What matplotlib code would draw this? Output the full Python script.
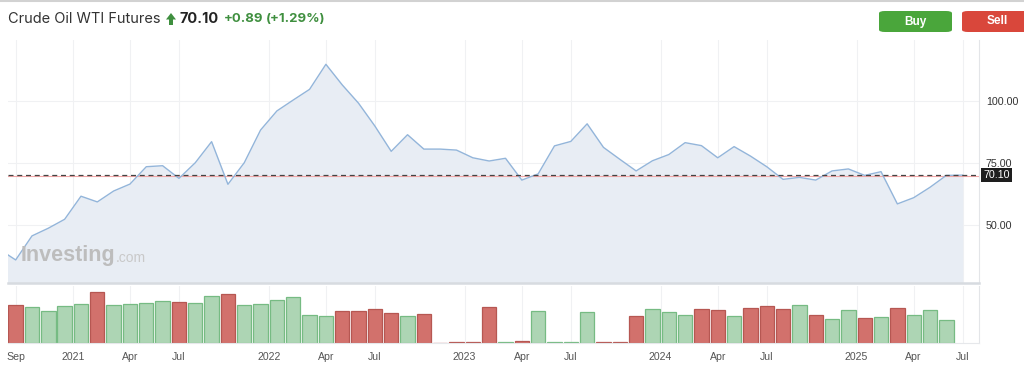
import matplotlib.pyplot as plt
import matplotlib.transforms as mtransforms
from matplotlib.patches import FancyBboxPatch, Polygon
import numpy as np
import pandas as pd

# Data (monthly, Aug 2020 .. Jul 2025)
months = [str(p) for p in pd.period_range("2020-08", "2025-07", freq="M")]
price = [40.2, 35.9, 45.6, 48.7, 52.3, 61.6, 59.3, 63.7, 66.5, 73.5, 73.9,
         68.8, 75.1, 83.6, 66.4, 75.1, 88.3, 96.0, 100.4, 104.7, 114.8,
         106.5, 99.1, 89.9, 79.7, 86.4, 80.6, 80.6, 80.2, 77.1, 75.8,
         76.9, 68.1, 70.6, 81.9, 83.7, 90.8, 81.3, 76.5, 71.8, 75.9,
         78.4, 83.2, 82.0, 77.1, 81.6, 77.8, 73.5, 68.4, 69.2, 68.1,
         71.8, 72.6, 70.0, 71.5, 58.5, 61.0, 65.2, 70.0, 70.1]
# volume bars (relative heights), Sep 2020 .. Jun 2025
volume = [115, 110, 96, 112, 118, 154, 115, 118, 120, 126, 124, 120, 143,
          148, 115, 118, 129, 138, 85, 82, 96, 96, 104, 91, 82, 88, 0, 3,
          5, 110, 4, 7, 97, 5, 5, 93, 5, 5, 83, 102, 93, 86, 102, 99, 82,
          107, 113, 104, 115, 86, 72, 99, 77, 80, 107, 86, 99, 69]
vol_dir = ["d", "u", "u", "u", "u", "d", "u", "u", "u", "u", "d", "u", "u",
           "d", "u", "u", "u", "u", "u", "u", "d", "d", "d", "d", "u", "d",
           "d", "d", "d", "d", "u", "d", "u", "u", "u", "u", "d", "d", "d",
           "u", "u", "u", "d", "d", "u", "d", "d", "d", "u", "d", "u", "u",
           "d", "u", "d", "u", "u", "u"]
last_price = 70.10
prev_close = 69.6
tick_months = ["2020-09", "2021-01", "2021-04", "2021-07", "2022-01", "2022-04",
               "2022-07", "2023-01", "2023-04", "2023-07", "2024-01", "2024-04",
               "2024-07", "2025-01", "2025-04", "2025-07"]
tick_labels = ["Sep", "2021", "Apr", "Jul", "2022", "Apr", "Jul", "2023",
               "Apr", "Jul", "2024", "Apr", "Jul", "2025", "Apr", "Jul"]

plt.rcParams['font.family'] = ['Liberation Sans', 'DejaVu Sans']

W, H = 1024, 368
fig = plt.figure(figsize=(W / 100, H / 100), dpi=100)


def fx(px):
    return px / W


def fy(py):
    return 1 - py / H


x = np.arange(len(months)) - 1
xv = np.arange(len(volume))
tick_pos = []
for m in tick_months:
    i = months.index(m) - 1
    tick_pos.append(i - 0.5 if m.endswith("-01") else i)

xlim = (-0.47, 59.0)
grid_c = '#f0f1f3'

# price pane
ax = fig.add_axes([fx(8), fy(283), fx(979 - 8), fy(40) - fy(283)])
ax.set_xlim(*xlim)
ax.set_ylim(26.6, 124.6)
ax.fill_between(x, price, 0, color='#e8edf4', lw=0, zorder=1)
ax.plot(x, price, color='#93b5da', lw=1.0, zorder=3)
ax.axhline(prev_close, color='#f2a7a7', lw=0.8, zorder=2)
ax.axhline(last_price, color='#444444', lw=0.9, dashes=(4, 3), zorder=4)
for t in tick_pos:
    ax.axvline(t, color=grid_c, lw=0.8, zorder=0)
for v in [50, 75, 100]:
    ax.axhline(v, color=grid_c, lw=0.8, zorder=0)
ax.set_xticks([])
ax.yaxis.tick_right()
ax.set_yticks([50, 75, 100])
ax.set_yticklabels(["%.2f" % v for v in [50, 75, 100]])
ax.tick_params(axis='y', length=0, pad=5, labelsize=7.7, labelcolor='#333333')
for s in ['top', 'left']:
    ax.spines[s].set_visible(False)
ax.spines['right'].set_color('#e3e5e8')
ax.spines['right'].set_linewidth(0.8)
ax.spines['bottom'].set_color('#d7dbe0')
ax.spines['bottom'].set_linewidth(1.8)

trans = mtransforms.blended_transform_factory(ax.transAxes, ax.transData)
ax.text(1 + 4.5 / 971, last_price, "%.2f" % last_price, transform=trans,
        ha='left', va='center', color='white', fontsize=7.7,
        bbox=dict(boxstyle='square,pad=0.22', fc='#1e1e1e', ec='none'))

# watermark
fig.text(fx(21), fy(261.5), "Investing", fontsize=15.5, fontweight='bold',
         color='#bdbdbd', va='baseline', ha='left')
fig.text(fx(116), fy(261.5), ".com", fontsize=10, color='#c9c9c9',
         va='baseline', ha='left')

# volume pane
axv = fig.add_axes([fx(8), fy(343.3), fx(979 - 8), fy(286) - fy(343.3)])
axv.set_xlim(*xlim)
axv.set_ylim(0, 172)
for t in tick_pos:
    axv.axvline(t, color=grid_c, lw=0.8, zorder=0)
fills = {'u': '#add5b4', 'd': '#d2716c'}
edges = {'u': '#76bb83', 'd': '#b65752'}
axv.bar(xv, volume, width=0.88, color=[fills[d] for d in vol_dir],
        edgecolor=[edges[d] for d in vol_dir], linewidth=0.9, zorder=2)
axv.set_xticks(tick_pos)
axv.set_xticklabels(tick_labels)
axv.tick_params(axis='x', length=0, pad=6, labelsize=7.6, labelcolor='#555555')
axv.set_yticks([])
for s in ['top', 'left']:
    axv.spines[s].set_visible(False)
axv.spines['right'].set_color('#e3e5e8')
axv.spines['right'].set_linewidth(0.8)
axv.spines['bottom'].set_color('#e6e8eb')
axv.spines['bottom'].set_linewidth(0.8)

# header
hfont = ['Inter', 'DejaVu Sans']
fig.add_artist(plt.Line2D([0, 1], [fy(0.5), fy(0.5)], color='#d2d2d2', lw=1.5))
fig.text(fx(8), fy(19), "Crude Oil WTI Futures", fontsize=10.5, color='#333333',
         va='center', ha='left', family=hfont)
arrow = Polygon([(fx(166), fy(19.5)), (fx(171), fy(13)), (fx(176), fy(19.5)),
                 (fx(173), fy(19.5)), (fx(173), fy(25)), (fx(169), fy(25)),
                 (fx(169), fy(19.5))], closed=True, transform=fig.transFigure,
                fc='#3f8f3f', ec='none')
fig.add_artist(arrow)
fig.text(fx(179), fy(19), "70.10", fontsize=10.5, fontweight='bold',
         color='#222222', va='center', ha='left', family=hfont)
fig.text(fx(224), fy(19), "+0.89", fontsize=9.5, fontweight='bold',
         color='#3f8f3f', va='center', ha='left', family=hfont)
fig.text(fx(266), fy(19), "(+1.29%)", fontsize=9.5, fontweight='bold',
         color='#3f8f3f', va='center', ha='left', family=hfont)

for x0, x1, col, lab, cx in [(879, 952, '#4aa63b', "Buy", 915),
                             (962, 1034, '#d9473b', "Sell", 997)]:
    btn = FancyBboxPatch((fx(x0), fy(32)), fx(x1 - x0), fy(11) - fy(32),
                         boxstyle='round,pad=0,rounding_size=0.006',
                         transform=fig.transFigure, fc=col, ec='none')
    fig.add_artist(btn)
    fig.text(fx(cx), fy(21.5), lab, fontsize=8.5, fontweight='bold',
             color='white', va='center', ha='center')

fig.savefig("out.png", dpi=100)
